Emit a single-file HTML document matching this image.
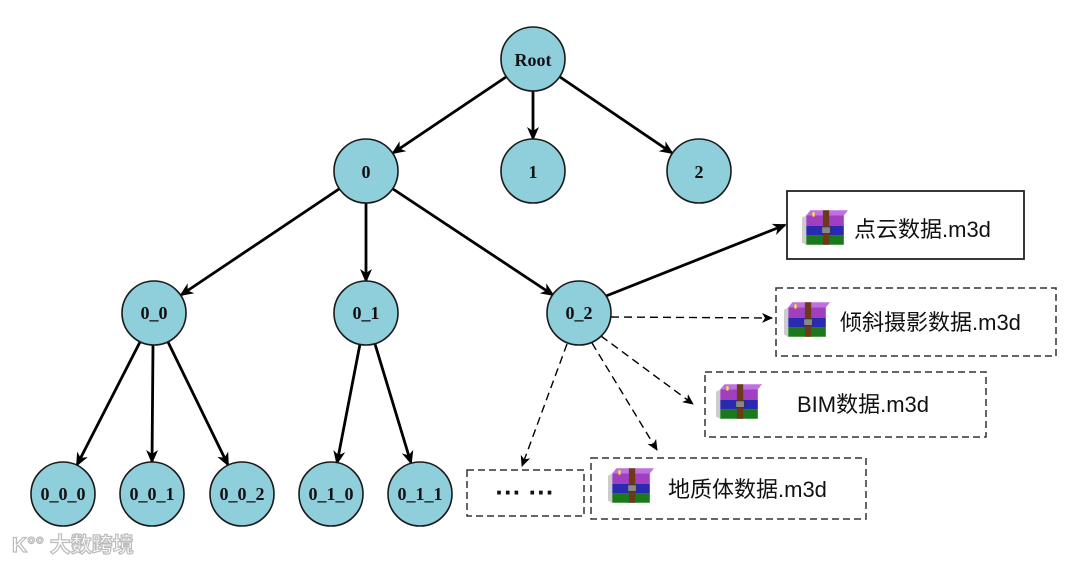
<!DOCTYPE html>
<html><head><meta charset="utf-8"><style>
html,body{margin:0;padding:0;background:#fff;width:1080px;height:564px;overflow:hidden}
svg{display:block}
.n{fill:#8fcfdc;stroke:#1a1a1a;stroke-width:1.6}
.t{font-family:"Liberation Serif",serif;font-weight:bold;font-size:18px;fill:#111;text-anchor:middle;dominant-baseline:central}
.e{stroke:#000;stroke-width:2.8;fill:none;marker-end:url(#a)}
.d{stroke:#000;stroke-width:1.4;fill:none;stroke-dasharray:8,5;marker-end:url(#b)}
.bx{fill:#fff;stroke:#333;stroke-width:1.5;stroke-dasharray:7,4}
.lb{font-family:"Liberation Sans","Noto Sans CJK SC",sans-serif;font-size:22px;fill:#111}
</style></head><body>
<svg width="1080" height="564" viewBox="0 0 1080 564">
<defs>
<marker id="a" markerWidth="14" markerHeight="12" refX="12" refY="6" orient="auto" markerUnits="userSpaceOnUse"><path d="M0,0 L14,6 L0,12 L4,6 Z" fill="#000"/></marker>
<marker id="b" markerWidth="11" markerHeight="10" refX="10" refY="5" orient="auto" markerUnits="userSpaceOnUse"><path d="M0,0 L11,5 L0,10 L3,5 Z" fill="#000"/></marker>
<symbol id="ic" viewBox="0 0 44 36">
<path d="M4,26 L40,26 L40,35 L4,35 Z" fill="#1a7a1a"/>
<path d="M4,17 L40,17 L40,26 L4,26 Z" fill="#2a2ab0"/>
<path d="M4,7 L40,7 L40,17 L4,17 Z" fill="#a040c0"/>
<path d="M8,2 L44,2 L40,7 L4,7 Z" fill="#c070e0"/>
<path d="M0,9 L4,7 L4,35 L0,33 Z" fill="#ccc"/>
<rect x="20" y="2" width="6" height="33" fill="#6b3a1a"/>
<rect x="19" y="18" width="8" height="6" fill="#888" stroke="#333" stroke-width="0.5"/>
<rect x="10" y="4" width="2" height="4" fill="#ff0"/>
</symbol>
</defs>

<g>
<line class="e" x1="506" y1="77" x2="393" y2="153"/>
<line class="e" x1="533" y1="91" x2="533" y2="139"/>
<line class="e" x1="560" y1="77" x2="672" y2="153"/>
<line class="e" x1="339" y1="189" x2="181" y2="295"/>
<line class="e" x1="366" y1="203" x2="366" y2="281"/>
<line class="e" x1="393" y1="189" x2="553" y2="295"/>
<line class="e" x1="140" y1="342" x2="77" y2="465"/>
<line class="e" x1="153" y1="345" x2="152" y2="462"/>
<line class="e" x1="168" y1="342" x2="228" y2="465"/>
<line class="e" x1="360" y1="344" x2="337" y2="463"/>
<line class="e" x1="375" y1="344" x2="411" y2="463"/>
<line class="e" x1="606" y1="296" x2="785" y2="225"/>
<line class="d" x1="611" y1="317" x2="772" y2="318"/>
<line class="d" x1="601" y1="336" x2="693" y2="404"/>
<line class="d" x1="592" y1="343" x2="657" y2="450"/>
<line class="d" x1="567" y1="344" x2="522" y2="466"/>
</g>

<g>
<circle class="n" cx="533" cy="59" r="32"/><text class="t" x="533" y="60">Root</text>
<circle class="n" cx="366" cy="171" r="32"/><text class="t" x="366" y="172">0</text>
<circle class="n" cx="533" cy="171" r="32"/><text class="t" x="533" y="172">1</text>
<circle class="n" cx="699" cy="171" r="32"/><text class="t" x="699" y="172">2</text>
<circle class="n" cx="154" cy="313" r="32"/><text class="t" x="154" y="313">0_0</text>
<circle class="n" cx="366" cy="313" r="32"/><text class="t" x="366" y="313">0_1</text>
<circle class="n" cx="579" cy="313" r="32"/><text class="t" x="579" y="313">0_2</text>
<circle class="n" cx="63" cy="494" r="32"/><text class="t" x="63" y="494">0_0_0</text>
<circle class="n" cx="152" cy="494" r="32"/><text class="t" x="152" y="494">0_0_1</text>
<circle class="n" cx="242" cy="494" r="32"/><text class="t" x="242" y="494">0_0_2</text>
<circle class="n" cx="331" cy="494" r="32"/><text class="t" x="331" y="494">0_1_0</text>
<circle class="n" cx="420" cy="494" r="32"/><text class="t" x="420" y="494">0_1_1</text>
</g>

<rect x="787" y="191" width="237" height="68" fill="#fff" stroke="#222" stroke-width="1.8"/>
<use href="#ic" x="802" y="208" width="46" height="38"/>
<text class="lb" x="854" y="237">点云数据.m3d</text>

<rect class="bx" x="776" y="288" width="280" height="68"/>
<use href="#ic" x="784" y="300" width="46" height="38"/>
<text class="lb" x="840" y="330">倾斜摄影数据.m3d</text>

<rect class="bx" x="705" y="372" width="281" height="65"/>
<use href="#ic" x="716" y="382" width="46" height="38"/>
<text class="lb" x="797" y="412">BIM数据.m3d</text>

<rect class="bx" x="591" y="458" width="275" height="61"/>
<use href="#ic" x="608" y="466" width="46" height="38"/>
<text class="lb" x="668" y="497">地质体数据.m3d</text>

<rect class="bx" x="467" y="470" width="117" height="46"/>
<text x="525" y="501" font-family="Liberation Sans,sans-serif" font-size="26" font-weight="bold" text-anchor="middle" fill="#111">··· ···</text>

<text x="12" y="552" font-family="Liberation Sans,'Noto Sans CJK SC',sans-serif" font-size="21" font-weight="bold" fill="#fff" stroke="#bbb" stroke-width="1.2">K°° 大数跨境</text>
</svg>
</body></html>
